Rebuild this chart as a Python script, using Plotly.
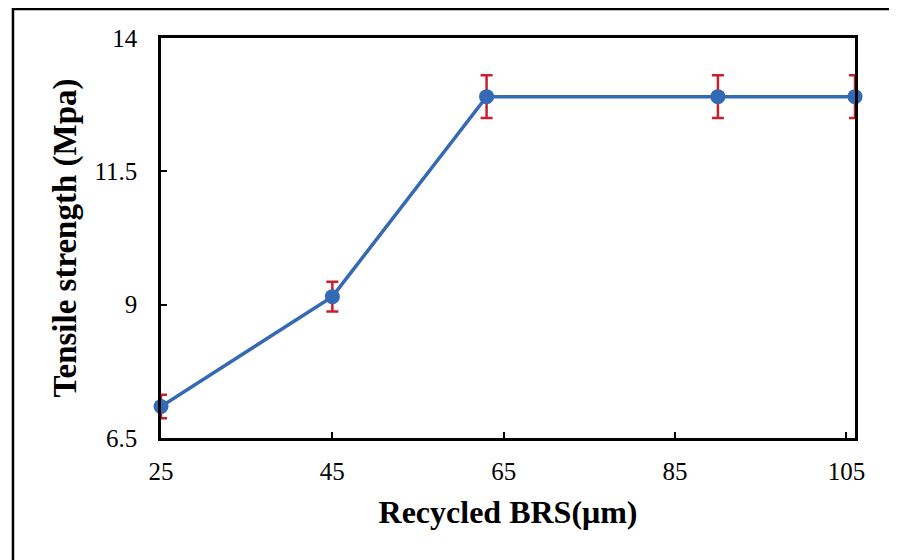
import plotly.graph_objects as go

x_vals = [25, 45, 63, 90, 106]
y_vals = [7.09, 9.15, 12.9, 12.9, 12.9]
y_err = [0.22, 0.28, 0.4, 0.4, 0.4]
x_ticks = [25, 45, 65, 85, 105]
y_ticks = [6.5, 9, 11.5, 14]

fig = go.Figure()
fig.add_trace(go.Scatter(
    x=x_vals, y=y_vals, mode="lines+markers",
    line=dict(color="#3369B5", width=3.5),
    marker=dict(color="#3369B5", size=15),
    error_y=dict(type="data", array=y_err, visible=True, color="#C8202C", thickness=2.5, width=6),
    cliponaxis=False, showlegend=False,
))

font = "Liberation Serif, Times New Roman, serif"
fig.update_layout(
    width=889, height=552,
    margin=dict(l=153, r=42, t=30, b=122),
    paper_bgcolor="white", plot_bgcolor="white",
    font=dict(family=font, color="black", size=25),
    xaxis=dict(range=[25, 106], tickvals=x_ticks, ticktext=[str(v) for v in x_ticks],
               showgrid=False, zeroline=False, showline=True, linecolor="black", linewidth=2.5,
               mirror=True, ticks="inside", ticklen=6, tickwidth=1.5, tickcolor="black",
               ticklabelstandoff=9,
               title=dict(text="<b>Recycled BRS(μm)</b>", font=dict(size=32), standoff=17)),
    yaxis=dict(range=[6.5, 14], tickvals=y_ticks, ticktext=["6.5", "9", "11.5", "14"],
               showgrid=False, zeroline=False, showline=True, linecolor="black", linewidth=2.5,
               mirror=True, ticks="inside", ticklen=6, tickwidth=1.5, tickcolor="black",
               ticklabelstandoff=16,
               title=dict(text="<b>Tensile strength (Mpa)</b>", font=dict(size=33), standoff=8)),
)
fig.add_shape(type="rect", xref="paper", yref="paper",
              x0=-0.2133, x1=1.07, y0=-0.32, y1=1.0725,
              line=dict(color="black", width=2.5), layer="below")
fig.write_html("out.html")
